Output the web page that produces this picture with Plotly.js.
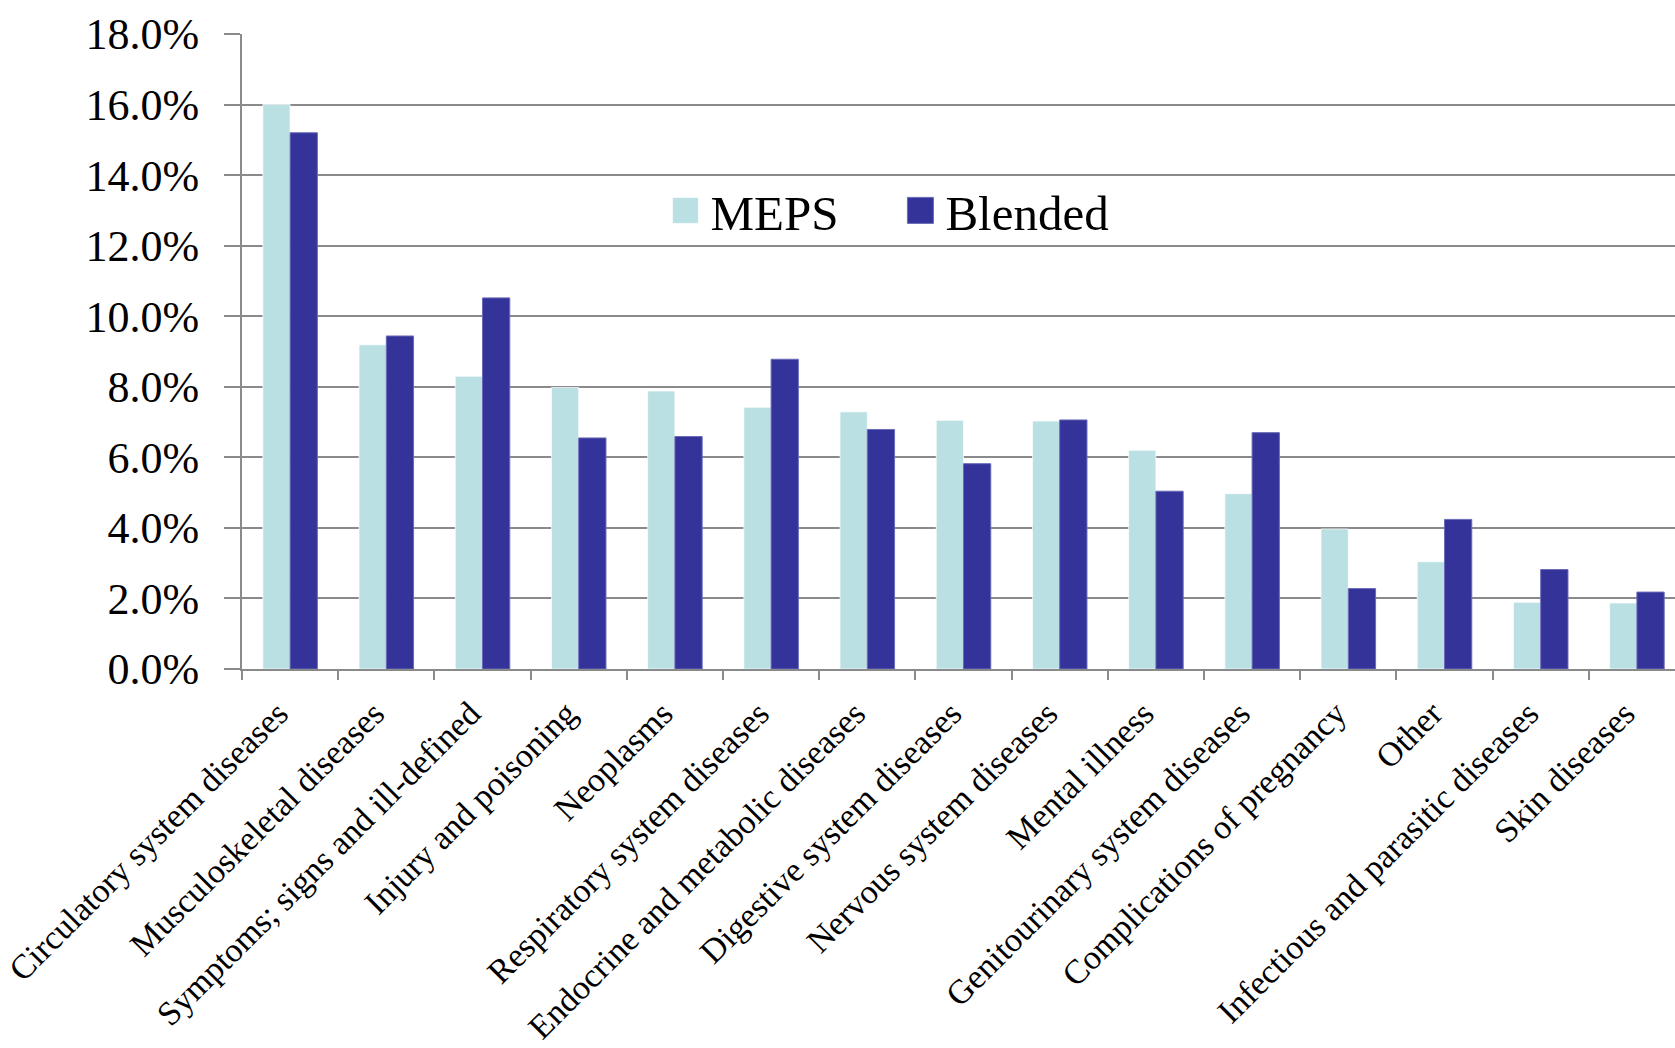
<!DOCTYPE html>
<html>
<head>
<meta charset="utf-8">
<script src="https://cdn.plot.ly/plotly-3.0.1.min.js"></script>
<style>
  html, body { margin: 0; padding: 0; background: #ffffff; }
  #chart { width: 1675px; height: 1048px; }
</style>
</head>
<body>
<div id="chart"></div>
<script>
// ---- data (percent of spending) ----
const categories = [
  "Circulatory system diseases",
  "Musculoskeletal diseases",
  "Symptoms; signs and ill-defined",
  "Injury and poisoning",
  "Neoplasms",
  "Respiratory system diseases",
  "Endocrine and metabolic diseases",
  "Digestive system diseases",
  "Nervous system diseases",
  "Mental illness",
  "Genitourinary system diseases",
  "Complications of pregnancy",
  "Other",
  "Infectious and parasitic diseases",
  "Skin diseases"
];
const mepsValues    = [16.0, 9.19, 8.30, 7.98, 7.88, 7.42, 7.29, 7.05, 7.03, 6.20, 4.97, 3.97, 3.04, 1.89, 1.87];
const blendedValues = [15.2, 9.44, 10.52, 6.55, 6.59, 8.78, 6.79, 5.82, 7.06, 5.04, 6.70, 2.28, 4.24, 2.82, 2.18];
const seriesNames = ["MEPS", "Blended"];
const yTickValues = [0, 2, 4, 6, 8, 10, 12, 14, 16, 18];
const yTickLabels = yTickValues.map(function (v) { return v.toFixed(1) + "%"; });

const serif = "Constantia, 'Liberation Serif', 'DejaVu Serif', serif";
const gridColor = "#8a8a8a";

const traces = [
  {
    type: "bar", name: seriesNames[0], x: categories, y: mepsValues,
    marker: { color: "#bae0e3", line: { color: "rgba(255,255,255,0.7)", width: 1 } },
    hoverinfo: "x+y"
  },
  {
    type: "bar", name: seriesNames[1], x: categories, y: blendedValues,
    marker: { color: "#343399", line: { color: "#6a6ab8", width: 1 } },
    hoverinfo: "x+y"
  }
];

const layout = {
  width: 1675, height: 1048,
  margin: { l: 242, r: 0, t: 34, b: 379, pad: 0 },
  paper_bgcolor: "#ffffff", plot_bgcolor: "#ffffff",
  barmode: "group", bargap: 0.433, bargroupgap: 0,
  font: { family: serif, color: "#000000" },
  showlegend: true,
  legend: {
    orientation: "h", x: 0.292, xanchor: "left", y: 0.722, yanchor: "middle",
    font: { family: serif, size: 49, color: "#000000" },
    bgcolor: "rgba(0,0,0,0)", itemwidth: 40, entrywidth: 180,
    traceorder: "normal"
  },
  xaxis: {
    type: "category", range: [-0.5, 14.396], automargin: false,
    showline: true, linecolor: gridColor, linewidth: 2,
    ticks: "outside", tickson: "boundaries", ticklen: 9, tickwidth: 2, tickcolor: gridColor,
    tickangle: -45, ticklabelstandoff: 9, ticklabelshift: -12,
    tickfont: { family: serif, size: 34, color: "#000000" },
    showgrid: false, zeroline: false
  },
  yaxis: {
    range: [0, 18], automargin: false,
    tickmode: "array", tickvals: yTickValues, ticktext: yTickLabels,
    showline: true, linecolor: gridColor, linewidth: 2,
    ticks: "outside", ticklen: 16, tickwidth: 2, tickcolor: gridColor,
    ticklabelstandoff: 16,
    tickfont: { family: serif, size: 44, color: "#000000" },
    showgrid: true, gridcolor: gridColor, gridwidth: 2, zeroline: false
  }
};

Plotly.newPlot("chart", traces, layout, { displayModeBar: false, staticPlot: true }).then(function (gd) {
  // enlarge the legend swatches to match the reference's square keys
  gd.querySelectorAll(".legend .legendpoints path").forEach(function (p) {
    p.setAttribute("d", "M13,13H-13V-13H13Z");
  });
});
</script>
</body>
</html>
